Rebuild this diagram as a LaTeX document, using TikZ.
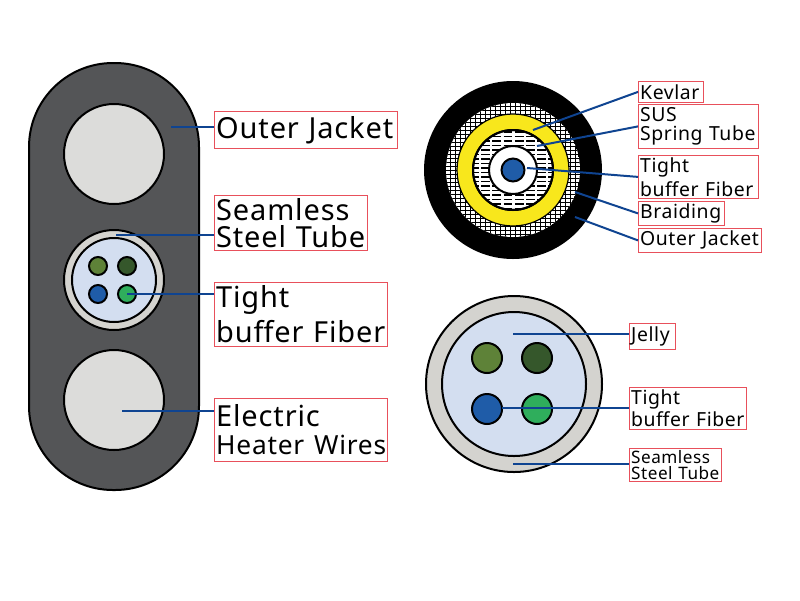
\documentclass[tikz,border=0pt]{standalone}
\usepackage{fontspec}
\setmainfont[LetterSpace=3]{Noto Sans}
\definecolor{jacketgray}{HTML}{545557}
\definecolor{wiregray}{HTML}{DCDCDA}
\definecolor{tubegray}{HTML}{D4D3CF}
\definecolor{jellyblue}{HTML}{D3DEF0}
\definecolor{leadblue}{HTML}{0F4491}
\definecolor{boxred}{HTML}{E8505B}
\definecolor{fiberblue}{HTML}{1F5CA8}
\definecolor{fibergreen}{HTML}{2FAE5C}
\definecolor{fiberolive}{HTML}{5E8238}
\definecolor{fiberdark}{HTML}{35572B}
\definecolor{kevyellow}{HTML}{F8E71C}
\tikzset{
  lead/.style={color=leadblue,line width=0.5mm},
  part/.style={draw=black,line width=0.5mm},
  labelbox/.style 2 args={draw=boxred,line width=0.2mm,anchor=north west,inner sep=0pt,
    minimum width=#1*0.025cm,minimum height=#2*0.025cm,text width=#1*0.025cm-2.5pt,align=left},
  bigtext/.style={font=\fontsize{20.6}{20}\selectfont},
  midtext/.style={font=\fontsize{13.8}{13.5}\selectfont},
  smalltext/.style={font=\fontsize{12.2}{11}\selectfont}
}
\begin{document}
\begin{tikzpicture}[x=0.025cm,y=-0.025cm]
  \useasboundingbox (0,0) rectangle (800,600);

  % flat cable
  \draw[part,fill=jacketgray,rounded corners=84*0.025cm] (29,63) rectangle (199,490);
  \draw[part,fill=wiregray] (114,154) circle (50);
  \draw[part,fill=wiregray] (114,400) circle (50);
  \draw[part,fill=tubegray] (114,280) circle (50);
  \draw[part,fill=jellyblue] (114,280) circle (42);
  \foreach \x/\y/\c in {98/266/fiberolive,127/266/fiberdark,98/294/fiberblue,127/294/fibergreen}
    \draw[part,fill=\c] (\x,\y) circle (9);

  % round cable
  \fill[black] (513,170) circle (89);
  \begin{scope}
    \clip (513,170) circle (67);
    \fill[white] (513,170) circle (67);
    \foreach \y in {102,106,...,240}
      \draw[line width=0.2mm] (440,\y) -- (590,\y);
    \foreach \x in {445,450,...,585}
      \draw[line width=0.13mm] (\x,100) -- (\x,240);
  \end{scope}
  \draw[draw=black,line width=0.3mm,fill=kevyellow] (513,170) circle (56);
  \draw[part,fill=white] (513,170) circle (40);
  \begin{scope}
    \clip (513,170) circle (40);
    \foreach \y in {132,136.5,...,210}
      \draw[line width=0.35mm,dash pattern=on 2.2mm off 0.6mm] (470,\y) -- (560,\y);
  \end{scope}
  \draw[part] (513,170) circle (40);
  \draw[part,fill=white] (513,170) circle (24);
  \draw[part,fill=fiberblue] (513,170) circle (11.5);

  % cross section
  \draw[part,fill=tubegray] (514,384) circle (88);
  \draw[part,fill=jellyblue] (514,384) circle (72);
  \foreach \x/\y/\c in {487/358/fiberolive,537/358/fiberdark,487/409/fiberblue,537/409/fibergreen}
    \draw[part,fill=\c,draw=black] (\x,\y) circle (15);

  % labels
  \node[labelbox={183}{37},bigtext] (bigJacket) at (214,111) {Outer~Jacket};
  \node[labelbox={153}{55},bigtext] (bigSteel) at (214,195) {Seamless\\[-0.5pt]Steel~Tube};
  \node[labelbox={173}{64},bigtext] (bigFiber) at (214,282) {Tight\\[3pt]buffer~Fiber};
  \node[labelbox={173}{63},bigtext] (bigHeater) at (214,398) {Electric\\{\fontsize{18.7}{20}\selectfont Heater~Wires}};

  \node[labelbox={65}{21},midtext] (topKevlar) at (638,81) {Kevlar};
  \node[labelbox={120}{44},midtext] (topSpring) at (638,104) {SUS\\Spring~Tube};
  \node[labelbox={120}{43},midtext] (topFiber) at (638,155) {Tight\\[2pt]buffer~Fiber};
  \node[labelbox={86}{24},midtext] (topBraid) at (638,201) {Braiding};
  \node[labelbox={123}{24},midtext] (topJacket) at (638,228) {Outer~Jacket};

  \node[labelbox={46}{26},midtext] (lowJelly) at (629,323) {Jelly};
  \node[labelbox={117}{42},midtext] (lowFiber) at (629,387) {Tight\\[1pt]buffer~Fiber};
  \node[labelbox={92}{33},smalltext] (lowSteel) at (629,448) {Seamless\\Steel~Tube};

  % free ends of the leaders
  \coordinate (endJacket) at (171,127);
  \coordinate (endSteel) at (116,235);
  \coordinate (endFiber) at (127,294);
  \coordinate (endHeater) at (122,411);
  \coordinate (endKevlar) at (533,130);
  \coordinate (endSpring) at (537,146);
  \coordinate (endCore) at (527,168);
  \coordinate (endBraid) at (575,192);
  \coordinate (endOuter) at (575,217);
  \coordinate (endJelly) at (513,334);
  \coordinate (endLow) at (502,408);
  \coordinate (endTube) at (513,464);

  \draw[lead] (endJacket) -- (endJacket -| bigJacket.west);
  \draw[lead] (endSteel) -- (endSteel -| bigSteel.west);
  \draw[lead] (endFiber) -- (endFiber -| bigFiber.west);
  \draw[lead] (endHeater) -- (endHeater -| bigHeater.west);
  \draw[lead] (endKevlar) -- (topKevlar.west);
  \draw[lead] (endSpring) -- (topSpring.west);
  \draw[lead] (endCore) -- (topFiber.west);
  \draw[lead] (endBraid) -- (topBraid.west);
  \draw[lead] (endOuter) -- (topJacket.west);
  \draw[lead] (endJelly) -- (endJelly -| lowJelly.west);
  \draw[lead] (endLow) -- (endLow -| lowFiber.west);
  \draw[lead] (endTube) -- (endTube -| lowSteel.west);
\end{tikzpicture}
\end{document}
